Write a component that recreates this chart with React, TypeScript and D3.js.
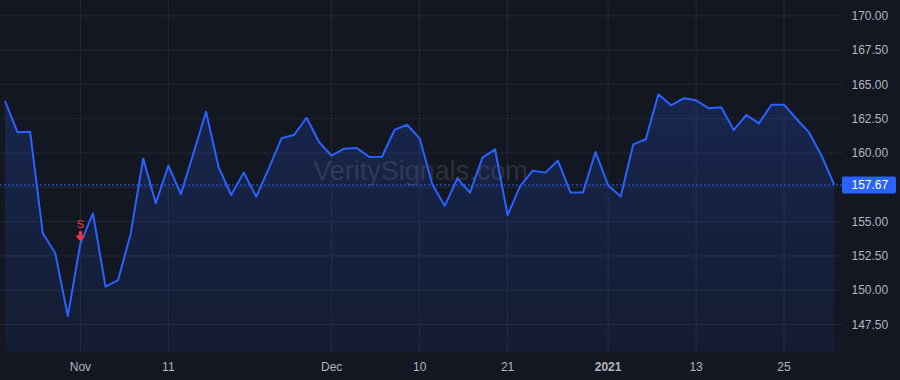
import React, { useEffect, useRef } from 'react';
import * as d3 from 'd3';

// trading days shown on the chart
const dates = [
    '2020-10-23', '2020-10-26', '2020-10-27', '2020-10-28', '2020-10-29', '2020-10-30',
    '2020-11-02', '2020-11-03', '2020-11-04', '2020-11-05', '2020-11-06', '2020-11-09',
    '2020-11-10', '2020-11-11', '2020-11-12', '2020-11-13', '2020-11-16', '2020-11-17',
    '2020-11-18', '2020-11-19', '2020-11-20', '2020-11-23', '2020-11-24', '2020-11-25',
    '2020-11-27', '2020-11-30', '2020-12-01', '2020-12-02', '2020-12-03', '2020-12-04',
    '2020-12-07', '2020-12-08', '2020-12-09', '2020-12-10', '2020-12-11', '2020-12-14',
    '2020-12-15', '2020-12-16', '2020-12-17', '2020-12-18', '2020-12-21', '2020-12-22',
    '2020-12-23', '2020-12-24', '2020-12-28', '2020-12-29', '2020-12-30', '2020-12-31',
    '2021-01-04', '2021-01-05', '2021-01-06', '2021-01-07', '2021-01-08', '2021-01-11',
    '2021-01-12', '2021-01-13', '2021-01-14', '2021-01-15', '2021-01-19', '2021-01-20',
    '2021-01-21', '2021-01-22', '2021-01-25', '2021-01-26', '2021-01-27', '2021-01-28',
    '2021-01-29',
];

const closes = [
    163.79, 161.51, 161.55, 154.17, 152.69, 148.12,
    153.42, 155.60, 150.26, 150.74, 154.10, 159.59,
    156.33, 159.07, 157.01, 159.98, 163.01, 158.96,
    156.94, 158.57, 156.82, 158.88, 161.07, 161.31,
    162.57, 160.78, 159.80, 160.31, 160.36, 159.71,
    159.73, 161.68, 162.06, 161.07, 157.74, 156.14,
    158.15, 157.11, 159.66, 160.27, 155.48, 157.59,
    158.71, 158.57, 159.44, 157.13, 157.13, 160.07,
    157.65, 156.82, 160.63, 161.00, 164.28, 163.48,
    163.99, 163.84, 163.26, 163.33, 161.68, 162.77,
    162.16, 163.52, 163.52, 162.48, 161.48, 159.78,
    157.67,
];

const xTickDates = ['2020-11-02', '2020-11-11', '2020-12-01', '2020-12-10', '2020-12-21', '2021-01-04', '2021-01-13', '2021-01-25'];
const xTickLabels = ['Nov', '11', 'Dec', '10', '21', '2021', '13', '25'];
const yTicks = [147.5, 150, 152.5, 155, 157.5, 160, 162.5, 165, 167.5, 170];

// sell signal
const signalDate = '2020-11-02';
const signalLabel = 'S';

const watermark = 'VeritySignals.com';

const App: React.FC = () => {
    const svgRef = useRef<SVGSVGElement>(null);

    useEffect(() => {
        if (!svgRef.current) return;
        const svg = d3.select(svgRef.current);
        svg.selectAll('*').remove();

        const width = 900;
        const height = 380;
        const plotRight = 842;
        const plotBottom = 352;
        const font = '"Liberation Sans", Arial, sans-serif';
        const textColor = '#b2b5be';
        const gridColor = '#242834';
        const blue = '#2962ff';

        const xScale = d3.scaleLinear()
            .domain([0, dates.length - 1])
            .range([5, 834.3]);

        const yScale = d3.scaleLinear()
            .domain([147.5, 170])
            .range([324.5, 15.8]);

        // background
        svg.append('rect')
            .attr('width', width)
            .attr('height', height)
            .attr('fill', '#131722');

        // gradient
        const gradient = svg.append('defs')
            .append('linearGradient')
            .attr('id', 'areaFill')
            .attr('x1', '0%').attr('y1', '0%')
            .attr('x2', '0%').attr('y2', '100%');
        gradient.append('stop').attr('offset', '0%').attr('stop-color', blue).attr('stop-opacity', 0.2);
        gradient.append('stop').attr('offset', '100%').attr('stop-color', blue).attr('stop-opacity', 0.07);

        // grid
        yTicks.forEach(t => {
            svg.append('line')
                .attr('x1', 0).attr('x2', plotRight)
                .attr('y1', yScale(t)).attr('y2', yScale(t))
                .attr('stroke', gridColor)
                .attr('stroke-width', 1);
        });
        xTickDates.forEach(d => {
            const x = xScale(dates.indexOf(d));
            svg.append('line')
                .attr('x1', x).attr('x2', x)
                .attr('y1', 0).attr('y2', plotBottom)
                .attr('stroke', gridColor)
                .attr('stroke-width', 1);
        });

        // area + line
        const area = d3.area<number>()
            .x((_, i) => xScale(i))
            .y0(plotBottom)
            .y1(d => yScale(d));

        const line = d3.line<number>()
            .x((_, i) => xScale(i))
            .y(d => yScale(d));

        svg.append('path')
            .datum(closes)
            .attr('fill', 'url(#areaFill)')
            .attr('d', area);

        // watermark
        svg.append('text')
            .attr('x', 420.5)
            .attr('y', 180)
            .attr('text-anchor', 'middle')
            .attr('font-family', font)
            .attr('font-size', '27px')
            .attr('fill', 'rgba(178, 181, 190, 0.18)')
            .text(watermark);

        svg.append('path')
            .datum(closes)
            .attr('fill', 'none')
            .attr('stroke', blue)
            .attr('stroke-width', 2)
            .attr('stroke-linejoin', 'round')
            .attr('d', line);

        // last price line
        const last = closes[closes.length - 1];
        const yLast = yScale(last);
        svg.append('line')
            .attr('x1', 0).attr('x2', plotRight)
            .attr('y1', yLast).attr('y2', yLast)
            .attr('stroke', blue)
            .attr('stroke-width', 1)
            .attr('stroke-dasharray', '2,2');

        // right axis labels (hidden where the price tag sits)
        yTicks.forEach(t => {
            if (Math.abs(yScale(t) - yLast) < 14) return;
            svg.append('text')
                .attr('x', 851.5)
                .attr('y', yScale(t) + 4.2)
                .attr('font-family', font)
                .attr('font-size', '12px')
                .attr('fill', textColor)
                .text(t.toFixed(2));
        });

        // last price tag
        svg.append('rect')
            .attr('x', 842)
            .attr('y', yLast - 8.5)
            .attr('width', 54)
            .attr('height', 17)
            .attr('rx', 2)
            .attr('fill', blue);
        svg.append('text')
            .attr('x', 851.5)
            .attr('y', yLast + 4.2)
            .attr('font-family', font)
            .attr('font-size', '12px')
            .attr('fill', '#ffffff')
            .text(last.toFixed(2));

        // bottom axis labels
        xTickDates.forEach((d, i) => {
            svg.append('text')
                .attr('x', xScale(dates.indexOf(d)))
                .attr('y', 371)
                .attr('text-anchor', 'middle')
                .attr('font-family', font)
                .attr('font-size', '12px')
                .attr('font-weight', xTickLabels[i] === '2021' ? 'bold' : 'normal')
                .attr('fill', textColor)
                .text(xTickLabels[i]);
        });

        // sell marker
        const si = dates.indexOf(signalDate);
        const sx = xScale(si);
        const sy = yScale(closes[si]);
        const red = '#f23645';
        svg.append('path')
            .attr('d', `M${sx - 1.6},${sy - 12} h3.2 v4.2 h3.4 L${sx},${sy - 2} L${sx - 5},${sy - 7.8} h3.4 Z`)
            .attr('fill', red);
        svg.append('text')
            .attr('x', sx)
            .attr('y', sy - 15.5)
            .attr('text-anchor', 'middle')
            .attr('font-family', font)
            .attr('font-size', '11.5px')
            .attr('fill', red)
            .text(signalLabel);
    }, []);

    return (
        <div style={{ position: 'fixed', left: 0, top: 0, width: 900, height: 380 }}>
            <svg ref={svgRef} width={900} height={380} style={{ display: 'block' }} />
        </div>
    );
};

export default App;
